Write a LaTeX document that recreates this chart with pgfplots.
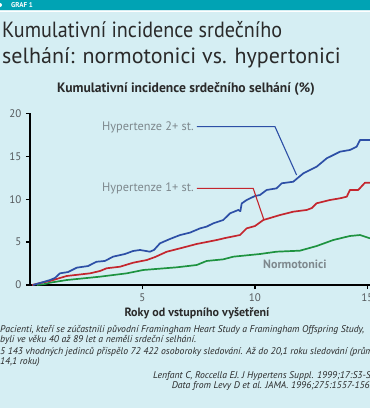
\documentclass[border=0pt]{standalone}
\usepackage{pgfplots}
\pgfplotsset{compat=1.18}
\usepackage{fontspec}
\setmainfont{PT Sans}
\newfontfamily\narrowfont{PT Sans}[FakeStretch=0.915]
\definecolor{bg}{HTML}{D5EEF3}
\definecolor{bar}{HTML}{00A3B4}
\definecolor{bl}{HTML}{2D4FA6}
\definecolor{rd}{HTML}{C4262E}
\definecolor{gr}{HTML}{1E9340}
\definecolor{lab}{HTML}{7E888D}
\definecolor{tk}{HTML}{55595C}
\definecolor{txt}{HTML}{2A2A2A}
\begin{document}
\begin{tikzpicture}[x=1pt,y=1pt]
\useasboundingbox (0,0) rectangle (370,-408);
\clip (0,0) rectangle (370,-408);
\fill[bg] (0,0) rectangle (370,-408);
\fill[bar] (0,0) rectangle (370,-10);
\draw[white, line width=0.8pt] (0,-11) -- (370,-11);
\fill[white] (0,-5) circle (2);
\node[anchor=west, text=white, inner sep=0, font=\bfseries\fontsize{7}{7}\selectfont] at (11,-5.3) {GRAF 1};
\node[anchor=base west, inner sep=0, text=txt, font=\narrowfont\fontsize{22}{22}\selectfont] at (2,-37.5) {Kumulativní incidence srdečního};
\node[anchor=base west, inner sep=0, text=txt, font=\fontsize{22}{22}\selectfont] at (2,-63.5) {selhání: normotonici vs. hypertonici};
\node[anchor=base, inner sep=0, text=txt, font=\bfseries\fontsize{13.6}{13.6}\selectfont] at (186,-92.7) {Kumulativní incidence srdečního selhání (\%)};
\begin{axis}[
  at={(30pt,-285pt)}, anchor=south west,
  scale only axis, width=343.1pt, height=171.7pt,
  xmin=0, xmax=15.25, ymin=0, ymax=20,
  axis x line=bottom, axis y line=left,
  axis line style={line width=1.6pt,-,black},
  xtick={5,10,15}, ytick={0,5,10,15,20},
  tick align=outside, major tick length=4pt,
  tick style={line width=1.3pt,black},
  /pgf/number format/assume math mode=true,
  ticklabel style={font=\fontsize{11}{11}\selectfont, text=tk},
  xticklabel style={yshift=-1pt},
  yticklabel style={xshift=-1pt},
  clip=false,
]
\addplot[gr, line width=1.7pt, line join=round] coordinates {
(0.3,0)(0.67,0.12)(0.89,0.27)(1.63,0.58)(3.11,0.97)(4.3,1.36)(5.04,1.75)(6.52,2.06)(7.41,2.33)(7.85,2.8)(8.59,2.99)(9.04,3.3)(10.22,3.61)(10.96,3.88)(12.0,4.0)(12.74,4.54)(13.48,5.24)(14.22,5.71)(14.67,5.82)(15.11,5.44)};
\addplot[rd, line width=1.7pt, line join=round] coordinates {
(0.09,0)(0.44,0.23)(0.89,0.47)(1.63,1.05)(2.67,1.36)(3.11,1.63)(3.41,1.95)(4.0,2.13)(4.59,2.6)(5.19,2.91)(5.56,3.26)(6.08,3.88)(6.67,4.27)(7.41,4.78)(8.3,5.24)(8.67,5.47)(9.33,5.82)(9.63,6.6)(10.0,6.87)(10.37,7.57)(11.11,8.15)(11.7,8.54)(12.3,8.74)(12.53,8.97)(12.74,9.52)(13.33,9.9)(13.78,10.1)(14.08,10.29)(14.22,11.07)(14.59,11.07)(14.89,11.92)(15.11,11.92)};
\addplot[bl, line width=1.7pt, line join=round] coordinates {
(0.13,0)(0.44,0.23)(0.89,0.58)(1.11,0.82)(1.33,1.36)(1.69,1.51)(2.08,2.02)(2.58,2.21)(2.96,2.71)(3.33,2.8)(3.69,3.3)(4.22,3.61)(4.58,3.96)(4.89,4.08)(5.33,3.88)(5.51,4.08)(5.78,4.86)(6.22,5.36)(6.67,5.82)(7.11,6.1)(7.56,6.6)(7.85,6.8)(8.15,7.19)(8.59,7.57)(8.89,8.35)(9.26,8.74)(9.35,8.6)(9.41,9.5)(9.63,9.9)(10.0,10.37)(10.22,10.48)(10.52,11.07)(10.96,11.26)(11.19,11.85)(11.7,12.03)(12.15,13.01)(12.74,13.78)(13.19,14.76)(13.78,15.53)(14.22,15.73)(14.52,16.11)(14.67,16.89)(15.11,16.89)};
\addplot[bl, line width=1.1pt] coordinates {(7.42,18.44)(10.89,18.44)(11.85,12.81)};
\addplot[rd, line width=1.1pt] coordinates {(7.42,11.26)(9.92,11.26)(10.4,7.57)};
\end{axis}
\node[anchor=base west, inner sep=0, text=lab, font=\fontsize{12.3}{12.3}\selectfont] at (102,-130.7) {Hypertenze 2+ st.};
\node[anchor=base west, inner sep=0, text=lab, font=\fontsize{12.3}{12.3}\selectfont] at (102,-191.7) {Hypertenze 1+ st.};
\node[anchor=base west, inner sep=0, text=lab, font=\bfseries\fontsize{12}{12}\selectfont] at (263,-268.3) {Normotonici};
\node[anchor=base, inner sep=0, text=txt, font=\bfseries\fontsize{12}{12}\selectfont] at (197,-316.7) {Roky od vstupního vyšetření};
\begin{scope}[every node/.style={inner sep=0, text=txt, font=\itshape\fontsize{9.7}{9.7}\selectfont}]
\node[anchor=base west] at (0,-332.3) {Pacienti, kteří se zúčastnili původní Framingham Heart Study a Framingham Offspring Study,};
\node[anchor=base west] at (0,-342.3) {byli ve věku 40 až 89 let a neměli srdeční selhání.};
\node[anchor=base west] at (0,-354.3) {5 143 vhodných jedinců přispělo 72 422 osoboroky sledování. Až do 20,1 roku sledování (průměrně};
\node[anchor=base west] at (0,-364.7) {14,1 roku)};
\node[anchor=base east] at (377,-378.7) {Lenfant C, Roccella EJ. J Hypertens Suppl. 1999;17:S3-S7.};
\node[anchor=base east] at (377,-388.7) {Data from Levy D et al. JAMA. 1996;275:1557-1562.};
\end{scope}
\end{tikzpicture}
\end{document}
